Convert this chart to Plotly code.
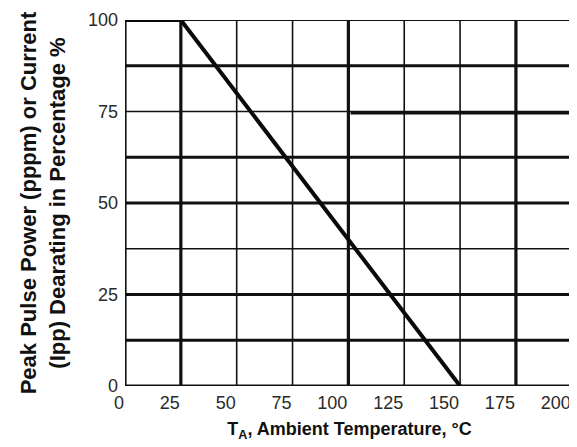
import plotly.graph_objects as go

# Data
temps = [0, 25, 150]
derating = [100, 100, 0]

x_ticks = [0, 25, 50, 75, 100, 125, 150, 175, 200]
x_tick_labels = ["0", "25", "50", "75", "100", "125", "150", "175", "200"]
y_ticks = [0, 25, 50, 75, 100]
y_tick_labels = ["0", "25", "50", "75", "100"]

# grid line values (heavy / thin)
v_heavy = [0, 25, 100, 175]
v_thin = [50, 75, 125, 150, 200]
h_heavy = [0, 12.5, 25, 50, 62.5, 87.5]
h_thin = [37.5, 75]
h_medium = [100]

fig = go.Figure()

shapes = []
INK = "#111111"
for v in v_thin:
    shapes.append(dict(type="line", xref="x", yref="y", x0=v, x1=v, y0=0, y1=100,
                       line=dict(color=INK, width=1.6), layer="below"))
for v in v_heavy:
    shapes.append(dict(type="line", xref="x", yref="y", x0=v, x1=v, y0=0, y1=100,
                       line=dict(color=INK, width=3.2), layer="below"))
for h in h_thin:
    shapes.append(dict(type="line", xref="x", yref="y", x0=0, x1=201, y0=h, y1=h,
                       line=dict(color=INK, width=1.6), layer="below"))
for h in h_medium:
    shapes.append(dict(type="line", xref="x", yref="y", x0=0, x1=201, y0=h, y1=h,
                       line=dict(color=INK, width=2.2), layer="below"))
for h in h_heavy:
    shapes.append(dict(type="line", xref="x", yref="y", x0=0, x1=201, y0=h, y1=h,
                       line=dict(color=INK, width=3.2), layer="below"))
# heavier right half of the 75 % line
shapes.append(dict(type="line", xref="x", yref="y", x0=101, x1=201, y0=74.6, y1=74.6,
                   line=dict(color=INK, width=3.2), layer="below"))

fig.add_trace(go.Scatter(x=temps, y=derating, mode="lines",
                         line=dict(color="#0a0a0a", width=4), hoverinfo="skip",
                         showlegend=False))

tick_font = dict(family="Liberation Sans, Arial, sans-serif", size=18, color="#2a2a2a")
xtitle_font = dict(family="Liberation Sans, Arial, sans-serif", size=18, color="#111111")
ytitle_font = dict(family="Liberation Sans, Arial, sans-serif", size=22, color="#111111")

# the page body adds an 8 px offset, so the figure is sized to fit the window
fig.update_layout(
    width=569, height=439,
    margin=dict(l=117, r=3, t=12, b=61),
    paper_bgcolor="white", plot_bgcolor="white",
    shapes=shapes,
    xaxis=dict(range=[0, 201], tickvals=x_ticks, ticktext=x_tick_labels,
               showgrid=False, zeroline=False, showline=False, ticks="",
               tickfont=tick_font, ticklabelstandoff=4,
               ticklabelposition="outside left", ticklabeloverflow="allow",
               ticklabelshift=-1,
               automargin=False,
               title=dict(text="<b>T<sub>A</sub>, Ambient Temperature, °C</b>",
                          font=xtitle_font, standoff=10),
               fixedrange=True),
    yaxis=dict(range=[0, 100], tickvals=y_ticks, ticktext=y_tick_labels,
               showgrid=False, zeroline=False, showline=False, ticks="",
               tickfont=tick_font, ticklabelstandoff=6,
               automargin=False,
               title=dict(text="<b>Peak Pulse Power (pppm) or Current<br>(Ipp) Dearating in Percentage %</b>",
                          font=ytitle_font, standoff=16),
               fixedrange=True),
)

fig.write_html("out.html")
